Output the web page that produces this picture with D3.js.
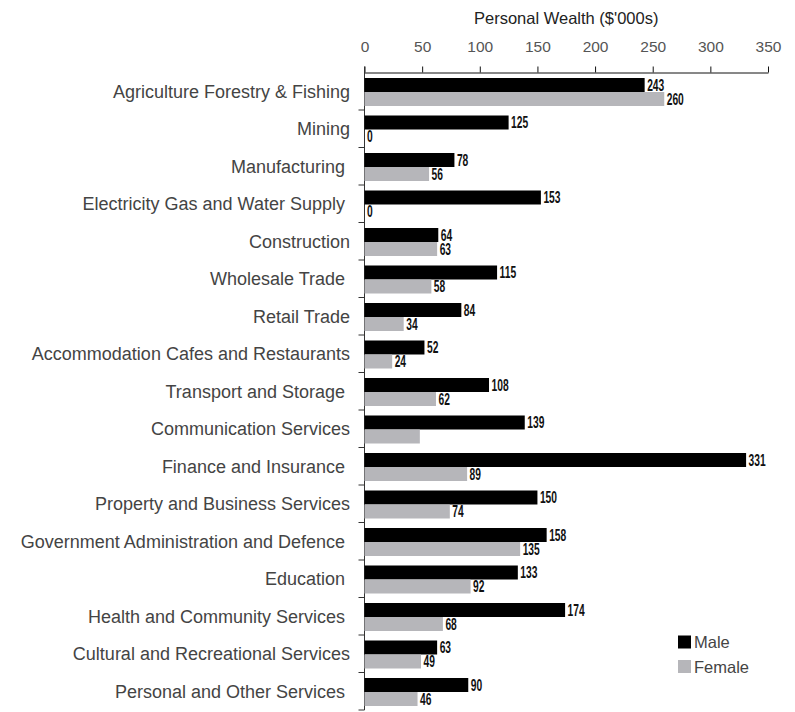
<!DOCTYPE html>
<html>
<head>
<meta charset="utf-8">
<script src="https://cdn.jsdelivr.net/npm/d3@7"></script>
<style>
  body { margin: 0; background: #fff; }
  svg { display: block; }
  text { font-family: "Liberation Sans", Arial, sans-serif; }
</style>
</head>
<body>
<svg id="chart" width="795" height="712"></svg>
<script>
// categories (trailing spaces kept as they are in the source labels)
const categories = [
  "Agriculture Forestry & Fishing",
  "Mining",
  "Manufacturing ",
  "Electricity Gas and Water Supply ",
  "Construction",
  "Wholesale Trade ",
  "Retail Trade",
  "Accommodation Cafes and Restaurants",
  "Transport and Storage ",
  "Communication Services",
  "Finance and Insurance ",
  "Property and Business Services",
  "Government Administration and Defence ",
  "Education ",
  "Health and Community Services ",
  "Cultural and Recreational Services",
  "Personal and Other Services "
];
const maleValues   = [243, 125, 78, 153, 64, 115, 84, 52, 108, 139, 331, 150, 158, 133, 174, 63, 90];
const femaleValues = [260, 0, 56, 0, 63, 58, 34, 24, 62, 48, 89, 74, 135, 92, 68, 49, 46];
// the source shows no value label on this bar
const hiddenFemaleLabels = ["Communication Services"];
const xTicks = [0, 50, 100, 150, 200, 250, 300, 350];
const seriesNames = ["Male", "Female"];
const seriesColors = ["#000000", "#b6b6ba"];

const svg = d3.select("#chart");

const x = d3.scaleLinear().domain([0, 350]).range([364.5, 768]);
const y = d3.scaleBand().domain(categories).range([72.5, 710]).padding(0);
const barH = 14;
const barTop = 5.5;

// axis title
svg.append("text")
  .attr("x", (x(0) + x(350)) / 2)
  .attr("y", 24)
  .attr("text-anchor", "middle")
  .attr("font-size", 16.5)
  .attr("fill", "#222")
  .text("Personal Wealth ($'000s)");

// top axis
const xAxis = d3.axisTop(x).tickValues(xTicks).tickSizeInner(6).tickSizeOuter(0).tickPadding(15);
const gx = svg.append("g").attr("transform", "translate(0,72.5)").call(xAxis);
gx.select(".domain").attr("stroke", "#111");
gx.selectAll(".tick line").attr("stroke", "#111");
gx.selectAll(".tick text")
  .attr("font-size", 15.5)
  .attr("fill", "#555")
  .attr("font-family", "Liberation Sans, Arial, sans-serif");

// left axis line with ticks at band boundaries
const gy = svg.append("g");
gy.append("line")
  .attr("x1", x(0)).attr("x2", x(0))
  .attr("y1", 66.5).attr("y2", 710)
  .attr("stroke", "#333");
gy.selectAll("line.btick")
  .data(categories.slice(1).map(c => y(c)).concat([y.range()[1]]))
  .join("line")
  .attr("class", "btick")
  .attr("x1", x(0) - 6).attr("x2", x(0))
  .attr("y1", d => d).attr("y2", d => d)
  .attr("stroke", "#333");

// category labels
svg.append("g").selectAll("text")
  .data(categories)
  .join("text")
  .attr("x", 350)
  .attr("y", d => y(d) + y.bandwidth() / 2)
  .attr("dy", "0.35em")
  .attr("text-anchor", "end")
  .attr("font-size", 18)
  .attr("fill", "#444")
  .style("white-space", "pre")
  .text(d => d);

// bars
const rows = categories.map((c, i) => ({cat: c, male: maleValues[i], female: femaleValues[i]}));
const bars = svg.append("g");
bars.selectAll("rect.male")
  .data(rows)
  .join("rect")
  .attr("class", "male")
  .attr("x", x(0))
  .attr("y", d => y(d.cat) + barTop)
  .attr("width", d => x(d.male) - x(0))
  .attr("height", barH)
  .attr("fill", seriesColors[0]);
bars.selectAll("rect.female")
  .data(rows)
  .join("rect")
  .attr("class", "female")
  .attr("x", x(0))
  .attr("y", d => y(d.cat) + barTop + barH)
  .attr("width", d => x(d.female) - x(0))
  .attr("height", barH)
  .attr("fill", seriesColors[1]);

// value labels (condensed bold)
function valueLabel(sel, key, offset) {
  sel.attr("transform", d => `translate(${x(d[key]) + 2.5},${y(d.cat) + barTop + offset + barH / 2}) scale(0.64,1)`)
    .attr("dy", "0.36em")
    .attr("font-family", "Liberation Sans Narrow, Liberation Sans, Arial, sans-serif")
    .attr("font-weight", "bold")
    .attr("font-size", 16)
    .attr("fill", "#111")
    .text(d => d[key]);
}
const labels = svg.append("g");
labels.selectAll("text.male")
  .data(rows)
  .join("text")
  .attr("class", "male")
  .call(valueLabel, "male", 0);
labels.selectAll("text.female")
  .data(rows.filter(d => !hiddenFemaleLabels.includes(d.cat)))
  .join("text")
  .attr("class", "female")
  .call(valueLabel, "female", barH);

// legend
const legend = svg.append("g").attr("transform", "translate(678,635.5)");
const li = legend.selectAll("g")
  .data(seriesNames)
  .join("g")
  .attr("transform", (d, i) => `translate(0,${i * 24.5})`);
li.append("rect")
  .attr("width", 13).attr("height", 13)
  .attr("fill", (d, i) => seriesColors[i]);
li.append("text")
  .attr("x", 16).attr("y", 7)
  .attr("dy", "0.36em")
  .attr("font-size", 16.5)
  .attr("fill", "#444")
  .text(d => d);
</script>
</body>
</html>
